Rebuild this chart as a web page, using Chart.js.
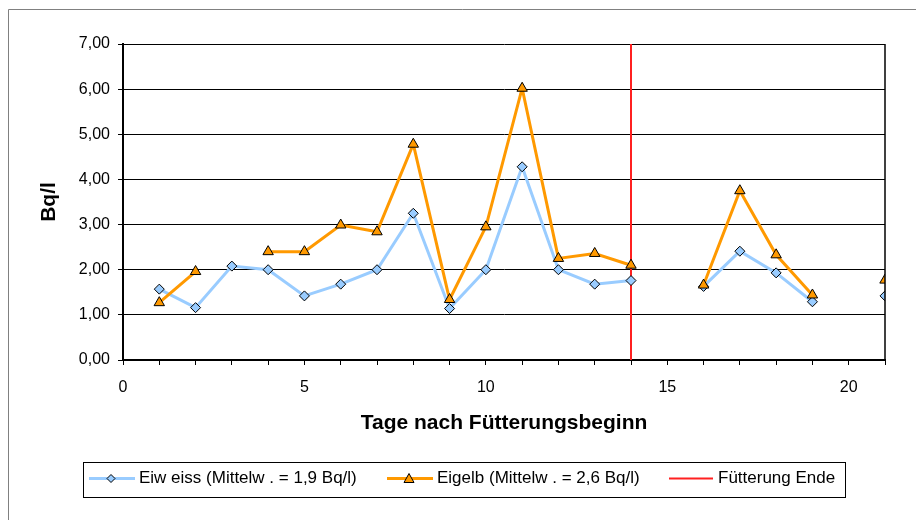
<!DOCTYPE html>
<html>
<head>
<meta charset="utf-8">
<script src="https://cdn.jsdelivr.net/npm/chart.js@4"></script>
<style>
  body { margin: 0; background: #fff; }
  canvas { display: block; }
</style>
</head>
<body>
<canvas id="myChart" width="916" height="520"></canvas>
<script>
var days = [1, 2, 3, 4, 5, 6, 7, 8, 9, 10, 11, 12, 13, 14, 15, 16, 17, 18, 19, 20, 21];
var eiweiss = [1.57, 1.16, 2.08, 2.0, 1.42, 1.68, 2.0, 3.25, 1.14, 2.0, 4.28, 2.0, 1.68, 1.76, null, 1.63, 2.41, 1.93, 1.29, null, 1.42];
var eigelb = [1.27, 1.96, null, 2.4, 2.4, 2.99, 2.84, 4.78, 1.34, 2.95, 6.02, 2.25, 2.36, 2.1, null, 1.66, 3.75, 2.33, 1.44, null, 1.77];
var fuetterungEnde = 14;
var legendLabels = ['Eiw eiss (Mittelw . = 1,9 Bq/l)', 'Eigelb (Mittelw . = 2,6 Bq/l)', 'Fütterung Ende'];

function points(values) {
    return days.map(function (d, i) { return { x: d, y: values[i] }; });
}

Chart.defaults.font.family = '"Liberation Sans", Arial, sans-serif';
Chart.defaults.font.size = 16;
Chart.defaults.color = '#000';

// frame, right border of plot area and the boxed legend
var extras = {
    id: 'extras',
    beforeDraw: function (chart) {
        var c = chart.ctx;
        c.save();
        c.fillStyle = '#fff';
        c.fillRect(0, 0, chart.width, chart.height);
        c.strokeStyle = '#808080';
        c.lineWidth = 1;
        c.beginPath();
        c.moveTo(8.5, chart.height);
        c.lineTo(8.5, 9.5);
        c.lineTo(chart.width, 9.5);
        c.stroke();
        c.restore();
    },
    afterDraw: function (chart) {
        var c = chart.ctx, a = chart.chartArea;
        c.save();
        c.strokeStyle = '#000';
        c.lineWidth = 1.5;
        c.beginPath();
        c.moveTo(a.right, a.top);
        c.lineTo(a.right, a.bottom);
        c.stroke();

        // legend box
        c.lineWidth = 1;
        c.strokeRect(83.5, 462.5, 762, 35);
        var y = 478.5;
        c.lineWidth = 3;
        c.strokeStyle = '#99CCFF';
        c.beginPath(); c.moveTo(89, y); c.lineTo(135, y); c.stroke();
        c.strokeStyle = '#FF9900';
        c.beginPath(); c.moveTo(387, y); c.lineTo(433, y); c.stroke();
        c.lineWidth = 2;
        c.strokeStyle = '#FF2020';
        c.beginPath(); c.moveTo(669, y); c.lineTo(713, y); c.stroke();

        c.lineWidth = 1;
        c.strokeStyle = '#000';
        c.fillStyle = '#99CCFF';
        c.beginPath(); c.moveTo(111, y - 4); c.lineTo(115, y); c.lineTo(111, y + 4); c.lineTo(107, y); c.closePath(); c.fill(); c.stroke();
        c.fillStyle = '#FF9900';
        c.beginPath(); c.moveTo(409, y - 5); c.lineTo(414, y + 4); c.lineTo(404, y + 4); c.closePath(); c.fill(); c.stroke();

        c.fillStyle = '#000';
        c.font = '17px "Liberation Sans", Arial, sans-serif';
        c.textBaseline = 'middle';
        c.fillText(legendLabels[0], 139, y);
        c.fillText(legendLabels[1], 437, y);
        c.fillText(legendLabels[2], 718, y);
        c.restore();
    }
};

var ctx = document.getElementById('myChart').getContext('2d');
var myChart = new Chart(ctx, {
    type: 'line',
    data: {
        datasets: [{
            label: legendLabels[0],
            data: points(eiweiss),
            borderColor: '#99CCFF',
            backgroundColor: '#99CCFF',
            borderWidth: 3,
            pointStyle: 'rectRot',
            pointRadius: 5,
            pointBorderColor: '#000',
            pointBorderWidth: 1,
            spanGaps: false,
            order: 2
        }, {
            label: legendLabels[1],
            data: points(eigelb),
            borderColor: '#FF9900',
            backgroundColor: '#FF9900',
            borderWidth: 3,
            pointStyle: 'triangle',
            pointRadius: 6,
            pointBorderColor: '#000',
            pointBorderWidth: 1,
            spanGaps: false,
            order: 1
        }, {
            label: legendLabels[2],
            data: [{ x: fuetterungEnde, y: 0 }, { x: fuetterungEnde, y: 7 }],
            borderColor: '#FF2020',
            borderWidth: 2,
            pointRadius: 0,
            order: 3
        }]
    },
    options: {
        responsive: false,
        animation: false,
        layout: { padding: { left: 0, top: 44, right: 31, bottom: 0 } },
        plugins: {
            legend: { display: false },
            tooltip: { enabled: false }
        },
        scales: {
            x: {
                type: 'linear',
                min: 0,
                max: 21,
                afterFit: function (s) { s.height = 160; },
                ticks: {
                    stepSize: 1,
                    autoSkip: false,
                    maxRotation: 0,
                    padding: 13,
                    callback: function (v) { return v % 5 === 0 ? String(v) : ''; }
                },
                grid: { drawOnChartArea: false, color: '#000', tickLength: 5 },
                border: { color: '#000', width: 2 },
                title: {
                    display: true,
                    text: 'Tage nach Fütterungsbeginn',
                    font: { size: 21, weight: 'bold' },
                    padding: { top: 0, bottom: 84 }
                }
            },
            y: {
                min: 0,
                max: 7,
                afterFit: function (s) { s.width = 123; },
                ticks: {
                    stepSize: 1,
                    padding: 8,
                    callback: function (v) { return v.toFixed(2).replace('.', ','); }
                },
                grid: { color: '#000', tickLength: 5 },
                border: { color: '#000', width: 2 },
                title: {
                    display: true,
                    text: 'Bq/l',
                    font: { size: 21, weight: 'bold' },
                    padding: { top: 37, bottom: 0 }
                }
            }
        }
    },
    plugins: [extras]
});
</script>
</body>
</html>
